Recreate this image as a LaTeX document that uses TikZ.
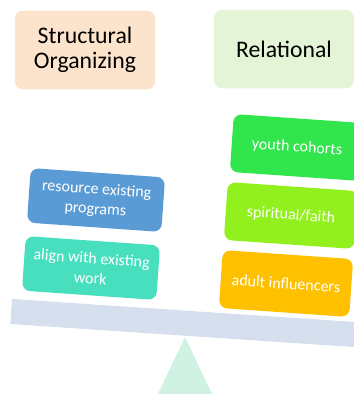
\documentclass[tikz,border=0pt]{standalone}
\usepackage{fontspec}
\setmainfont{Carlito}
\definecolor{peach}{HTML}{FCE4CC}
\definecolor{palegreen}{HTML}{E3F5D6}
\definecolor{progblue}{HTML}{5B9BD5}
\definecolor{workteal}{HTML}{48DFBF}
\definecolor{youthgreen}{HTML}{31E64C}
\definecolor{faithlime}{HTML}{93F01F}
\definecolor{adultorange}{HTML}{FFC000}
\definecolor{beamgray}{HTML}{D5DFEE}
\definecolor{pivotmint}{HTML}{D0F2E2}
\begin{document}
\begin{tikzpicture}[x=0.75pt,y=-0.75pt,
  headbox/.style={rounded corners=6pt, align=center, text=black,
    minimum width=105pt, minimum height=59pt, inner sep=0pt,
    font=\fontsize{17.8}{18.5}\selectfont},
  itembox/.style={rounded corners=6pt, align=center, text=white,
    inner sep=0pt, rotate=-4,
    font=\fontsize{12}{15}\selectfont},
  leftitem/.style={itembox, minimum width=101pt, minimum height=41pt},
  rightitem/.style={itembox, minimum width=98pt, minimum height=43.5pt}]
  \useasboundingbox (0,0) rectangle (354,394);

  % pivot and tilted beam
  \fill[pivotmint] (185,337) -- (214,398) -- (156,398) -- cycle;
  \fill[beamgray] (12,299) -- (370,323) -- (368.3,348) -- (10.3,324) -- cycle;

  % column headings
  \node[headbox, fill=peach] (structural) at (85,50) {Structural\\Organizing};
  \node[headbox, fill=palegreen] (relational) at (284,49) {Relational};

  % structural side
  \node[leftitem, fill=progblue] (programs) at (96,200) {resource existing\\programs};
  \node[leftitem, fill=workteal] (work) at (91,268) {align with existing\\work};

  % relational side
  \node[rightitem, fill=youthgreen] (youth) at (297,147.5) {youth cohorts};
  \node[rightitem, fill=faithlime] (faith) at (291,215.5) {spiritual/faith};
  \node[rightitem, fill=adultorange] (adults) at (286,283.5) {adult influencers};
\end{tikzpicture}
\end{document}
